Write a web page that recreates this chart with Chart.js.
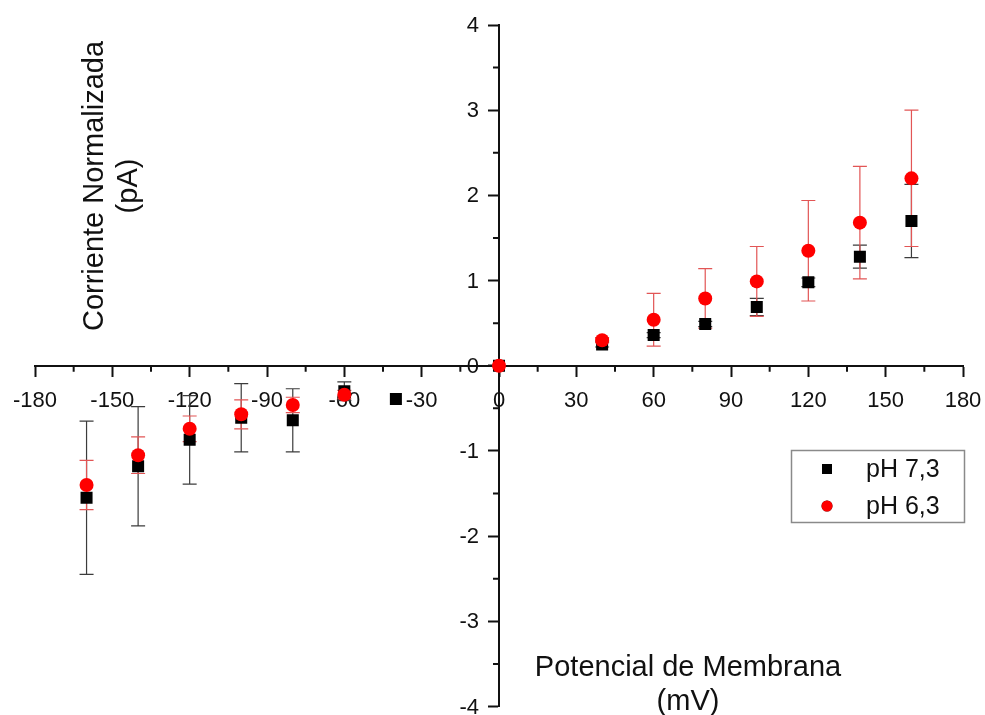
<!DOCTYPE html>
<html>
<head>
<meta charset="utf-8">
<script src="https://cdn.jsdelivr.net/npm/chart.js@4.4.1/dist/chart.umd.min.js"></script>
<style>
  html, body { margin: 0; padding: 0; background: #ffffff; }
  #wrap { width: 985px; height: 715px; }
</style>
</head>
<body>
<div id="wrap"><canvas id="iv" width="985" height="715"></canvas></div>
<script>
// Membrane potential (mV), normalized current (pA) and its error, per series
const voltagePH73 = [-160, -140, -120, -100, -80, -60, -40, 0, 40, 60, 80, 100, 120, 140, 160];
const currentPH73 = [-1.55, -1.18, -0.87, -0.61, -0.64, -0.30, -0.39, 0, 0.25, 0.36, 0.49, 0.69, 0.98, 1.28, 1.70];
const errorPH73   = [0.90, 0.70, 0.52, 0.40, 0.37, 0.11, 0, 0, 0.03, 0.03, 0.03, 0.10, 0.05, 0.135, 0.43];

const voltagePH63 = [-160, -140, -120, -100, -80, -60, 0, 40, 60, 80, 100, 120, 140, 160];
const currentPH63 = [-1.40, -1.05, -0.74, -0.57, -0.46, -0.34, 0, 0.30, 0.54, 0.79, 0.99, 1.35, 1.68, 2.20];
const errorPH63   = [0.29, 0.215, 0.15, 0.17, 0.09, 0.05, 0, 0.03, 0.31, 0.35, 0.41, 0.59, 0.66, 0.80];

const seriesLabels = ['pH 7,3', 'pH 6,3'];
const xTitleLines = ['Potencial de Membrana', '(mV)'];
const yTitleLines = ['Corriente Normalizada', '(pA)'];

const FONT = "'Liberation Sans', Arial, Helvetica, sans-serif";
const INK = '#111111';
const TICK_FONT = 22;
const MAJOR_TICK = 10;
const MINOR_TICK = 6;

function points(xs, ys) {
  return xs.map((x, i) => ({ x: x, y: ys[i] }));
}

// Vertical error bars with caps, drawn beneath the markers
const errorBars = {
  id: 'errorBars',
  beforeDatasetsDraw(chart) {
    const ctx = chart.ctx;
    const yScale = chart.scales.y;
    chart.data.datasets.forEach((ds, di) => {
      const meta = chart.getDatasetMeta(di);
      if (!ds.errors) return;
      ctx.save();
      ctx.strokeStyle = ds.errorColor;
      ctx.lineWidth = 1.2;
      meta.data.forEach((el, i) => {
        const e = ds.errors[i];
        if (!e) return;
        const v = ds.data[i].y;
        const top = yScale.getPixelForValue(v + e);
        const bot = yScale.getPixelForValue(v - e);
        const x = el.x;
        ctx.beginPath();
        ctx.moveTo(x, top); ctx.lineTo(x, bot);
        ctx.moveTo(x - 7, top); ctx.lineTo(x + 7, top);
        ctx.moveTo(x - 7, bot); ctx.lineTo(x + 7, bot);
        ctx.stroke();
      });
      ctx.restore();
    });
  }
};

// Minor ticks between major ticks, and the y tick labels left of the crossing axis
const axisDecor = {
  id: 'axisDecor',
  afterDraw(chart) {
    const ctx = chart.ctx;
    const xs = chart.scales.x, ys = chart.scales.y;
    const y0 = ys.getPixelForValue(0);
    const x0 = xs.getPixelForValue(0);
    ctx.save();
    ctx.strokeStyle = INK;
    ctx.lineWidth = 2;
    ctx.beginPath();
    for (let i = 0; i < xs.ticks.length - 1; i++) {
      const px = xs.getPixelForValue((xs.ticks[i].value + xs.ticks[i + 1].value) / 2);
      ctx.moveTo(px, y0); ctx.lineTo(px, y0 + MINOR_TICK);
    }
    for (let i = 0; i < ys.ticks.length - 1; i++) {
      const py = ys.getPixelForValue((ys.ticks[i].value + ys.ticks[i + 1].value) / 2);
      ctx.moveTo(x0, py); ctx.lineTo(x0 - MINOR_TICK, py);
    }
    ctx.stroke();

    ctx.fillStyle = INK;
    ctx.font = TICK_FONT + 'px ' + FONT;
    ctx.textAlign = 'right';
    ctx.textBaseline = 'middle';
    ys.ticks.forEach(t => {
      ctx.fillText(String(t.value), x0 - MAJOR_TICK - 10, ys.getPixelForValue(t.value) + 1);
    });
    ctx.restore();
  }
};

// Axis titles placed inside the quadrants
const axisTitles = {
  id: 'axisTitles',
  afterDraw(chart) {
    const ctx = chart.ctx;
    ctx.save();
    ctx.fillStyle = INK;
    ctx.font = '29px ' + FONT;
    ctx.textAlign = 'center';
    ctx.textBaseline = 'alphabetic';
    ctx.fillText(xTitleLines[0], 688, 676);
    ctx.fillText(xTitleLines[1], 688, 710);
    ctx.save();
    ctx.translate(103, 186);
    ctx.rotate(-Math.PI / 2);
    ctx.fillText(yTitleLines[0], 0, 0);
    ctx.fillText(yTitleLines[1], 0, 34);
    ctx.restore();
    ctx.restore();
  }
};

// Boxed legend in the lower right quadrant
const boxLegend = {
  id: 'boxLegend',
  afterDraw(chart) {
    const ctx = chart.ctx;
    ctx.save();
    ctx.strokeStyle = '#8a8a8a';
    ctx.lineWidth = 1.5;
    ctx.strokeRect(791.5, 450.5, 173, 72);
    const rows = [469, 506];
    chart.data.datasets.forEach((ds, i) => {
      Chart.helpers.drawPoint(ctx, {
        pointStyle: ds.pointStyle,
        radius: ds.pointStyle === 'rect' ? 7 : 5.5,
        rotation: 0,
        borderWidth: 0
      }, 827, rows[i]);
      ctx.fillStyle = ds.backgroundColor;
      ctx.fill();
      ctx.fillStyle = INK;
      ctx.font = '25px ' + FONT;
      ctx.textAlign = 'left';
      ctx.textBaseline = 'middle';
      ctx.fillText(ds.label, 866, rows[i] + 1);
    });
    ctx.restore();
  }
};

// Crossing axes should not take space from the plotting area
function noAxisPadding(scale) {
  scale.paddingTop = 0;
  scale.paddingBottom = 0;
  scale.paddingLeft = 0;
  scale.paddingRight = 0;
}

Chart.defaults.font.family = FONT;
Chart.defaults.color = INK;

new Chart(document.getElementById('iv'), {
  type: 'scatter',
  data: {
    datasets: [
      {
        label: seriesLabels[0],
        data: points(voltagePH73, currentPH73),
        errors: errorPH73,
        errorColor: '#3c3c3c',
        pointStyle: 'rect',
        pointRadius: 8.5,
        pointHoverRadius: 8.5,
        backgroundColor: '#000000',
        borderColor: '#000000',
        borderWidth: 0,
        order: 1
      },
      {
        label: seriesLabels[1],
        data: points(voltagePH63, currentPH63),
        errors: errorPH63,
        errorColor: '#e25555',
        pointStyle: 'circle',
        pointRadius: 7,
        pointHoverRadius: 7,
        backgroundColor: '#ff0000',
        borderColor: '#ff0000',
        borderWidth: 0,
        order: 0
      }
    ]
  },
  options: {
    responsive: false,
    animation: false,
    layout: { padding: { left: 35, right: 22, top: 25, bottom: 7 } },
    plugins: { legend: { display: false }, tooltip: { enabled: false } },
    scales: {
      x: {
        type: 'linear',
        position: { y: 0 },
        min: -180, max: 180,
        afterFit: noAxisPadding,
        ticks: { stepSize: 30, font: { size: TICK_FONT }, padding: 12, color: INK, maxRotation: 0, autoSkip: false },
        grid: { drawOnChartArea: false, drawTicks: true, tickLength: MAJOR_TICK, tickWidth: 2, tickColor: INK },
        border: { color: INK, width: 2 }
      },
      y: {
        type: 'linear',
        position: { x: 0 },
        min: -4, max: 4,
        afterFit: noAxisPadding,
        ticks: { stepSize: 1, display: false },
        grid: { drawOnChartArea: false, drawTicks: true, tickLength: MAJOR_TICK, tickWidth: 2, tickColor: INK },
        border: { color: INK, width: 2 }
      }
    }
  },
  plugins: [errorBars, axisDecor, axisTitles, boxLegend]
});
</script>
</body>
</html>
